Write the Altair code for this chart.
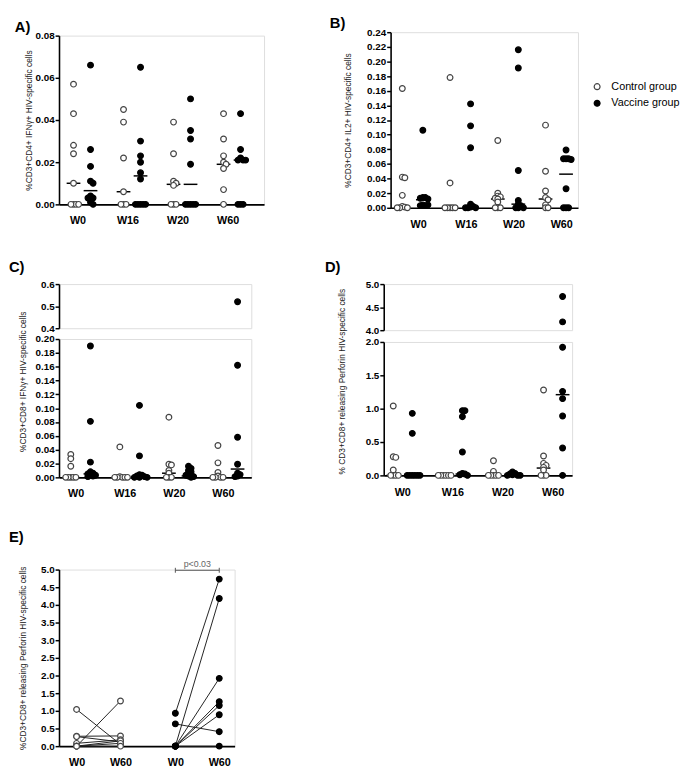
import altair as alt
import pandas as pd

FONT = "Liberation Sans"
WEEKS = ["W0", "W16", "W20", "W60"]
GROUPS = ["Control group", "Vaccine group"]

# ---------------- Panel A : %CD3+CD4+ IFNg+ ----------------
A_ctrl = [[0.057, 0.043, 0.028, 0.024, 0.010, 0, 0, 0, 0],
          [0.045, 0.039, 0.022, 0.006, 0, 0, 0],
          [0.039, 0.024, 0.011, 0.010, 0.009, 0, 0, 0],
          [0.043, 0.031, 0.023, 0.020, 0.019, 0.017, 0.007, 0]]
A_vacc = [[0.066, 0.026, 0.018, 0.011, 0.010, 0.004, 0.003, 0.003, 0.001, 0],
          [0.065, 0.030, 0.023, 0.020, 0.015, 0.012, 0, 0, 0, 0, 0],
          [0.050, 0.035, 0.031, 0.019, 0, 0, 0, 0, 0],
          [0.043, 0.026, 0.022, 0.021, 0.021, 0.021, 0, 0, 0]]
A_med_ctrl = [0.010, 0.006, 0.0095, 0.019]
A_med_vacc = [0.0065, 0.0135, 0.0095, 0.021]

# ---------------- Panel B : %CD3+CD4+ IL2+ ----------------
B_ctrl = [[0.163, 0.042, 0.041, 0.017, 0.002, 0.001, 0, 0, 0],
          [0.178, 0.034, 0, 0, 0, 0, 0],
          [0.092, 0.020, 0.016, 0.015, 0.013, 0.012, 0.008, 0, 0, 0],
          [0.113, 0.050, 0.023, 0.014, 0.011, 0.004, 0, 0]]
B_vacc = [[0.106, 0.014, 0.014, 0.013, 0.012, 0.004, 0.003, 0.003, 0.004],
          [0.142, 0.112, 0.082, 0.005, 0.002, 0.001, 0, 0, 0],
          [0.216, 0.191, 0.051, 0.010, 0.005, 0.003, 0, 0, 0],
          [0.079, 0.067, 0.067, 0.067, 0.066, 0.026, 0, 0, 0]]
B_med_ctrl = [0.001, 0.0, 0.012, 0.012]
B_med_vacc = [0.011, 0.001, 0.005, 0.046]

# ---------------- Panel C : %CD3+CD8+ IFNg+ ----------------
C_ctrl = [[0.033, 0.027, 0.016, 0, 0, 0, 0, 0],
          [0.044, 0.001, 0, 0, 0, 0, 0],
          [0.087, 0.019, 0.018, 0.010, 0.006, 0, 0, 0],
          [0.046, 0.021, 0.007, 0.002, 0, 0, 0, 0]]
C_vacc = [[0.190, 0.081, 0.022, 0.008, 0.006, 0.005, 0.004, 0.003, 0.002, 0.001],
          [0.104, 0.031, 0.004, 0.003, 0.002, 0.001, 0, 0, 0],
          [0.016, 0.013, 0.010, 0.008, 0.006, 0.004, 0.003, 0.002, 0.001, 0],
          [0.52, 0.162, 0.058, 0.019, 0.006, 0.004, 0.002, 0.001]]
C_med_ctrl = [0.0, 0.0, 0.006, 0.0]
C_med_vacc = [0.005, 0.001, 0.002, 0.012]

# ---------------- Panel D : Perforin ----------------
D_ctrl = [[1.04, 0.28, 0.27, 0.08, 0, 0, 0, 0],
          [0, 0, 0, 0, 0, 0],
          [0.22, 0.06, 0, 0, 0, 0, 0],
          [1.28, 0.29, 0.18, 0.15, 0.12, 0.08, 0, 0, 0]]
D_vacc = [[0.93, 0.63, 0, 0, 0, 0, 0, 0],
          [0.97, 0.97, 0.88, 0.35, 0.03, 0.02, 0.01, 0],
          [0.05, 0.03, 0.02, 0.01, 0, 0, 0],
          [4.73, 4.18, 1.92, 1.26, 1.15, 0.89, 0.41, 0]]
D_med_ctrl = [0.0, 0.0, 0.0, 0.11]
D_med_vacc = [0.0, 0.02, 0.01, 1.21]

# ---------------- Panel E : paired W0 -> W60 ----------------
E_ctrl_w0 = [1.04, 0.28, 0.27, 0.08, 0.0, 0.0, 0.0, 0.0]
E_ctrl_w60 = [0.05, 0.29, 0.12, 0.18, 1.28, 0.15, 0.08, 0.0]
E_vacc_w0 = [0.93, 0.0, 0.63, 0.0, 0.0, 0.0, 0.0, 0.0]
E_vacc_w60 = [4.73, 4.18, 0.41, 1.92, 1.26, 1.15, 0.89, 0.0]
E_labels = ["W0", "W60", "W0", "W60"]
E_pvalue = "p<0.03"
E_bracket_y = 4.98

# ---------------- helpers ----------------
COLOR_SCALE_FILL = alt.Scale(domain=GROUPS, range=["white", "black"])
COLOR_SCALE_STROKE = alt.Scale(domain=GROUPS, range=["#444444", "black"])
LEGEND_B = alt.Legend(title=None, orient="none", legendX=205, legendY=50,
                      labelFontSize=11, labelFont=FONT, labelColor="black", symbolSize=36,
                      symbolStrokeWidth=1.2, rowPadding=5, labelOffset=9)


def swarm(vals, ppy, ppx, step=2.6):
    placed, out = [], []
    cands = [0.0]
    for k in range(1, 15):
        cands += [k * step, -k * step]
    for v in vals:
        y = v * ppy
        chosen = cands[-1]
        for c in cands:
            if all((c - px) ** 2 + (y - py) ** 2 >= step ** 2 - 1e-6 for px, py in placed):
                chosen = c
                break
        placed.append((chosen, y))
        out.append(chosen / ppx)
    return out


def scatter_df(ctrl, vacc, c_off, v_off, ppy, ppx):
    rows = []
    for w in range(4):
        for grp, vals, off in ((GROUPS[0], ctrl[w], c_off), (GROUPS[1], vacc[w], v_off)):
            for v, j in zip(vals, swarm(vals, ppy, ppx)):
                rows.append({"x": w + off + j, "v": v, "group": grp})
    return pd.DataFrame(rows)


def median_df(mc, mv, c_off, v_off, half):
    rows = []
    for w in range(4):
        rows.append({"x1": w + c_off - half, "x2": w + c_off + half, "v": mc[w]})
        rows.append({"x1": w + v_off - half, "x2": w + v_off + half, "v": mv[w]})
    return pd.DataFrame(rows)


WEEK_EXPR = ("datum.value < 0.5 ? 'W0' : datum.value < 1.5 ? 'W16' : "
             "datum.value < 2.5 ? 'W20' : 'W60'")


def x_axis(values, expr):
    return alt.Axis(values=values, labelExpr=expr, ticks=False, tickSize=0, grid=False,
                    domainColor="black", domainWidth=1.6, labelFontWeight="bold",
                    labelFontSize=11, labelFont=FONT, labelPadding=11, labelColor="black",
                    title=None)


def y_axis(values, fmt, title=None, tX=-28, tY=None):
    kw = dict(values=values, format=fmt, grid=False, tickSize=4, tickWidth=1.5,
              tickColor="black", domainColor="black", domainWidth=1.6,
              labelFontWeight="bold", labelFontSize=10, labelFont=FONT,
              labelColor="black", labelPadding=1)
    if title:
        kw.update(title=title, titleFontSize=8.5, titleFontWeight="normal", titleFont=FONT,
                  titleColor="#222222", titleX=tX, titleAngle=-90, titleAlign="center",
                  titleBaseline="bottom")
        if tY is not None:
            kw["titleY"] = tY
    else:
        kw["title"] = None
    return alt.Axis(**kw)


def point_layer(df, xs, ys, xa, ya, with_legend=False):
    leg = LEGEND_B if with_legend else None
    return alt.Chart(df).mark_point(shape="circle", filled=True, size=34,
                                    strokeWidth=1.2, opacity=1).encode(
        x=alt.X("x:Q", scale=xs, axis=xa), y=alt.Y("v:Q", scale=ys, axis=ya),
        fill=alt.Fill("group:N", scale=COLOR_SCALE_FILL, legend=leg),
        stroke=alt.Stroke("group:N", scale=COLOR_SCALE_STROKE, legend=leg))


def unit(pts, meds, xdom, ydom, w, h, yvals, yfmt, show_x=True, ytitle=None,
         tX=-28, tY=None, title=None, with_legend=False):
    lo, hi = ydom
    p = pts[(pts.v >= lo - 1e-9) & (pts.v <= hi + 1e-9)]
    xs = alt.Scale(domain=xdom, nice=False, zero=False)
    ys = alt.Scale(domain=ydom, nice=False, zero=False)
    xa = x_axis([0, 1, 2, 3], WEEK_EXPR) if show_x else None
    ya = y_axis(yvals, yfmt, ytitle, tX, tY)
    layers = []
    if meds is not None:
        m = meds[(meds.v >= lo - 1e-9) & (meds.v <= hi + 1e-9)]
        layers.append(alt.Chart(m).mark_rule(color="black", strokeWidth=1.5).encode(
            x=alt.X("x1:Q", scale=xs, axis=xa), x2="x2:Q",
            y=alt.Y("v:Q", scale=ys, axis=ya)))
    layers.append(point_layer(p, xs, ys, xa, ya, with_legend))
    ch = alt.layer(*layers).properties(width=w, height=h)
    if title is not None:
        ch = ch.properties(title=title)
    return ch


def ptitle(text, dx, offset):
    return alt.TitleParams(text=text, anchor="start", frame="group", dx=dx, offset=offset,
                           fontSize=15, fontWeight="bold", font=FONT, color="black")


# ---------------- Panel A ----------------
A_w, A_h = 209, 172
A_xdom = [-0.37, 3.73]
A_ppx = A_w / (A_xdom[1] - A_xdom[0])
A_pts = scatter_df(A_ctrl, A_vacc, -0.08, 0.26, A_h / 0.08, A_ppx)
A_meds = median_df(A_med_ctrl, A_med_vacc, -0.08, 0.26, 7 / A_ppx)
panelA = unit(A_pts, A_meds, A_xdom, [0, 0.08], A_w, A_h, [0, 0.02, 0.04, 0.06, 0.08], ".2f",
              ytitle="%CD3+CD4+ IFNγ+ HIV-specific cells", tX=-26, tY=A_h / 2,
              title=ptitle("A)", -45, -4))

# ---------------- Panel B ----------------
B_w, B_h = 191, 179
B_xdom = [-0.575, 3.35]
B_ppx = B_w / (B_xdom[1] - B_xdom[0])
B_pts = scatter_df(B_ctrl, B_vacc, -0.33, 0.1, B_h / 0.24, B_ppx)
B_meds = median_df(B_med_ctrl, B_med_vacc, -0.33, 0.1, 7 / B_ppx)
panelB = unit(B_pts, B_meds, B_xdom, [0, 0.24], B_w, B_h,
              [round(0.02 * i, 2) for i in range(13)], ".2f",
              ytitle="%CD3+CD4+ IL2+ HIV-specific cells", tX=-39, tY=B_h / 2,
              title=ptitle("B)", -62, -4), with_legend=True)

# ---------------- Panel C (broken axis) ----------------
C_w, C_hu, C_hl = 196, 45, 141
C_xdom = [-0.34, 3.58]
C_ppx = C_w / (C_xdom[1] - C_xdom[0])
C_pts = scatter_df(C_ctrl, C_vacc, -0.1, 0.3, C_hl / 0.2, C_ppx)
C_meds = median_df(C_med_ctrl, C_med_vacc, -0.1, 0.3, 7 / C_ppx)
C_up = unit(C_pts, None, C_xdom, [0.4, 0.6], C_w, C_hu, [0.4, 0.5, 0.6], ".1f",
            show_x=False, title=ptitle("C)", -51, 4))
C_lo = unit(C_pts, C_meds, C_xdom, [0, 0.2], C_w, C_hl,
            [round(0.02 * i, 2) for i in range(11)], ".2f",
            ytitle="%CD3+CD8+ IFNγ+ HIV-specific cells", tX=-32, tY=43)
panelC = alt.vconcat(C_up, C_lo, spacing=11, bounds="flush")

# ---------------- Panel D (broken axis) ----------------
D_w, D_hu, D_hl = 192, 47, 136
D_xdom = [-0.37, 3.39]
D_ppx = D_w / (D_xdom[1] - D_xdom[0])
D_pts = scatter_df(D_ctrl, D_vacc, -0.18, 0.2, D_hl / 2.0, D_ppx)
D_meds = median_df(D_med_ctrl, D_med_vacc, -0.18, 0.2, 7 / D_ppx)
D_up = unit(D_pts, None, D_xdom, [4.0, 5.0], D_w, D_hu, [4.0, 4.5, 5.0], ".1f",
            show_x=False, title=ptitle("D)", -60, 4))
D_lo = unit(D_pts, D_meds, D_xdom, [0, 2.0], D_w, D_hl, [0, 0.5, 1.0, 1.5, 2.0], ".1f",
            ytitle="% CD3+CD8+ releasing Perforin HIV-specific cells", tX=-38, tY=40)
panelD = alt.vconcat(D_up, D_lo, spacing=12, bounds="flush")

# ---------------- Panel E ----------------
E_w, E_h = 179, 180
E_xdom = [0, 4]
E_pos = [0.4, 1.4, 2.65, 3.65]
e_rows = []
for i, (a, b) in enumerate(zip(E_ctrl_w0, E_ctrl_w60)):
    e_rows.append({"pid": f"c{i}", "x": E_pos[0], "v": a, "group": GROUPS[0]})
    e_rows.append({"pid": f"c{i}", "x": E_pos[1], "v": b, "group": GROUPS[0]})
for i, (a, b) in enumerate(zip(E_vacc_w0, E_vacc_w60)):
    e_rows.append({"pid": f"v{i}", "x": E_pos[2], "v": a, "group": GROUPS[1]})
    e_rows.append({"pid": f"v{i}", "x": E_pos[3], "v": b, "group": GROUPS[1]})
E_df = pd.DataFrame(e_rows)
E_expr = ("datum.value < 1 ? '%s' : datum.value < 2 ? '%s' : datum.value < 3 ? '%s' : '%s'"
          % tuple(E_labels))
exs = alt.Scale(domain=E_xdom, nice=False, zero=False)
eys = alt.Scale(domain=[0, 5], nice=False, zero=False)
exa = x_axis(E_pos, E_expr)
eya = y_axis([round(0.5 * i, 1) for i in range(11)], ".1f",
             "%CD3+CD8+ releasing Perforin HIV-specific cells", -32, E_h / 2)
E_lines = alt.Chart(E_df).mark_line(color="#222222", strokeWidth=1).encode(
    x=alt.X("x:Q", scale=exs, axis=exa), y=alt.Y("v:Q", scale=eys, axis=eya), detail="pid:N")
E_points = point_layer(E_df, exs, eys, exa, eya)
br_df = pd.DataFrame([{"x1": E_pos[2], "x2": E_pos[3], "v": E_bracket_y,
                       "xm": (E_pos[2] + E_pos[3]) / 2, "t": E_pvalue}])
cap_df = pd.DataFrame([{"x": E_pos[2], "v1": E_bracket_y - 0.07, "v2": E_bracket_y + 0.07},
                       {"x": E_pos[3], "v1": E_bracket_y - 0.07, "v2": E_bracket_y + 0.07}])
E_br = alt.Chart(br_df).mark_rule(color="#555555", strokeWidth=1).encode(
    x=alt.X("x1:Q", scale=exs, axis=exa), x2="x2:Q", y=alt.Y("v:Q", scale=eys, axis=eya))
E_caps = alt.Chart(cap_df).mark_rule(color="#555555", strokeWidth=1).encode(
    x=alt.X("x:Q", scale=exs, axis=exa), y=alt.Y("v1:Q", scale=eys, axis=eya), y2="v2:Q")
E_txt = alt.Chart(br_df).mark_text(color="#666666", fontSize=9, font=FONT, dy=-6).encode(
    x=alt.X("xm:Q", scale=exs, axis=exa), y=alt.Y("v:Q", scale=eys, axis=eya), text="t:N")
panelE = alt.layer(E_lines, E_br, E_caps, E_txt, E_points).properties(
    width=E_w, height=E_h, title=ptitle("E)", -51, 16))

row1 = alt.hconcat(panelA, panelB, spacing=65, center=True).resolve_legend(
    fill="independent", stroke="independent")
row2 = alt.hconcat(panelC, panelD, spacing=73)
chart = alt.vconcat(row1, row2, panelE, spacing=30).resolve_legend(
    fill="independent", stroke="independent"
).properties(
    padding={"left": 0, "top": 0, "right": 0, "bottom": 0}
).configure_view(stroke=None).configure(font=FONT)

chart.save("out.html", embed_options={"renderer": "svg", "actions": False})
